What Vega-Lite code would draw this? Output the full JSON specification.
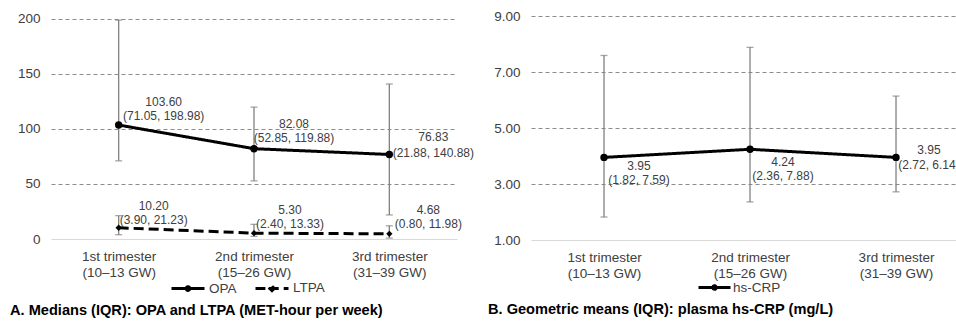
{
  "$schema": "https://vega.github.io/schema/vega-lite/v6.json",
  "padding": {"left": 10, "top": 9, "right": 0, "bottom": 0},
  "bounds": "flush",
  "spacing": 74,
  "datasets": {
    "pa": [
      {"trimester": "1st trimester (10–13 GW)", "series": "OPA", "value": 103.60, "lo": 71.05, "hi": 198.98, "label": "103.60\n(71.05, 198.98)"},
      {"trimester": "2nd trimester (15–26 GW)", "series": "OPA", "value": 82.08, "lo": 52.85, "hi": 119.88, "label": "82.08\n(52.85, 119.88)"},
      {"trimester": "3rd trimester (31–39 GW)", "series": "OPA", "value": 76.83, "lo": 21.88, "hi": 140.88, "label": "76.83\n(21.88, 140.88)"},
      {"trimester": "1st trimester (10–13 GW)", "series": "LTPA", "value": 10.20, "lo": 3.90, "hi": 21.23, "label": "10.20\n(3.90, 21.23)"},
      {"trimester": "2nd trimester (15–26 GW)", "series": "LTPA", "value": 5.30, "lo": 2.40, "hi": 13.33, "label": "5.30\n(2.40, 13.33)"},
      {"trimester": "3rd trimester (31–39 GW)", "series": "LTPA", "value": 4.68, "lo": 0.80, "hi": 11.98, "label": "4.68\n(0.80, 11.98)"}
    ],
    "crp": [
      {"trimester": "1st trimester (10–13 GW)", "series": "hs-CRP", "value": 3.95, "lo": 1.82, "hi": 7.59, "label": "3.95\n(1.82, 7.59)"},
      {"trimester": "2nd trimester (15–26 GW)", "series": "hs-CRP", "value": 4.24, "lo": 2.36, "hi": 7.88, "label": "4.24\n(2.36, 7.88)"},
      {"trimester": "3rd trimester (31–39 GW)", "series": "hs-CRP", "value": 3.95, "lo": 2.72, "hi": 6.14, "label": "3.95\n(2.72, 6.14)"}
    ]
  },
  "hconcat": [
    {
      "width": 406,
      "height": 223,
      "data": {"name": "pa"},
      "title": {"text": "A. Medians (IQR): OPA and LTPA (MET-hour per week)", "orient": "bottom", "anchor": "start", "frame": "group", "fontSize": 14.6, "fontWeight": "bold", "font": "Liberation Sans", "color": "#000000", "offset": 6, "dx": -41},
      "encoding": {
        "x": {
          "field": "trimester", "type": "ordinal",
          "sort": ["1st trimester (10–13 GW)", "2nd trimester (15–26 GW)", "3rd trimester (31–39 GW)"],
          "scale": {"type": "point", "padding": 0.5},
          "axis": {"title": null, "labelAngle": 0, "domain": false, "ticks": false, "tickSize": 0, "grid": false, "labelPadding": 10, "labelFontSize": 13.5, "labelLineHeight": 16, "labelColor": "#404040", "labelExpr": "[substring(datum.label, 0, 13), substring(datum.label, 14)]"}
        }
      },
      "layer": [
        {
          "mark": {"type": "rule", "color": "#808080", "strokeWidth": 1.3},
          "encoding": {
            "y": {"field": "lo", "type": "quantitative", "scale": {"domain": [0, 202.7], "nice": false, "zero": true},
              "axis": {"title": null, "values": [0, 50, 100, 150, 200], "domain": false, "ticks": false, "tickSize": 0, "labelPadding": 11, "labelFontSize": 13.5, "labelColor": "#404040",
                "gridColor": {"condition": {"test": "datum.value === 0", "value": "#d9d9d9"}, "value": "#8c8c8c"},
                "gridDash": {"condition": {"test": "datum.value === 0", "value": []}, "value": [4, 3]}, "gridWidth": 1}},
            "y2": {"field": "hi"}
          }
        },
        {
          "mark": {"type": "tick", "color": "#808080", "size": 7, "thickness": 1.3},
          "encoding": {"y": {"field": "lo", "type": "quantitative", "title": null}}
        },
        {
          "mark": {"type": "tick", "color": "#808080", "size": 7, "thickness": 1.3},
          "encoding": {"y": {"field": "hi", "type": "quantitative", "title": null}}
        },
        {
          "mark": {"type": "line", "color": "#000000", "strokeWidth": 3},
          "encoding": {
            "y": {"field": "value", "type": "quantitative", "title": null},
            "detail": {"field": "series"},
            "strokeDash": {
              "field": "series", "type": "nominal",
              "scale": {"domain": ["OPA", "LTPA"], "range": [[1, 0], [10, 5]]},
              "legend": {
                "title": null, "orient": "none", "direction": "horizontal", "legendX": 119, "legendY": 254,
                "symbolSize": 1089, "symbolStrokeWidth": 3, "symbolStrokeColor": "#000000", "symbolFillColor": "#000000",
                "labelFontSize": 13.5, "labelColor": "#404040", "labelOffset": 3, "columnPadding": 12,
                "encode": {"symbols": {"update": {
                  "shape": {"signal": "datum.value === 'OPA' ? 'M-1,0H1M-0.11,0A0.11,0.11,0,1,1,0.11,0A0.11,0.11,0,1,1,-0.11,0Z' : 'M-1,0H-0.4M-0.2,0H1M0,-0.13L0.13,0L0,0.13L-0.13,0Z'"},
                  "strokeDash": {"value": [1, 0]},
                  "fill": {"value": "#000000"},
                  "stroke": {"value": "#000000"}
                }}}
              }
            }
          }
        },
        {
          "transform": [{"filter": "datum.series === 'OPA'"}],
          "mark": {"type": "point", "filled": true, "color": "#000000", "opacity": 1, "shape": "circle", "size": 55},
          "encoding": {"y": {"field": "value", "type": "quantitative", "title": null}}
        },
        {
          "transform": [{"filter": "datum.series === 'LTPA'"}],
          "mark": {"type": "point", "filled": true, "color": "#000000", "opacity": 1, "shape": "diamond", "size": 40},
          "encoding": {"y": {"field": "value", "type": "quantitative", "title": null}}
        },
        {
          "transform": [{"filter": "datum.series === 'OPA' && indexof(datum.trimester, '1st') === 0"}],
          "mark": {"type": "text", "lineBreak": "\n", "fontSize": 12, "color": "#404040", "baseline": "middle", "lineHeight": 13.5, "dx": 45, "dy": -23},
          "encoding": {"y": {"field": "value", "type": "quantitative", "title": null}, "text": {"field": "label"}}
        },
        {
          "transform": [{"filter": "datum.series === 'OPA' && indexof(datum.trimester, '2nd') === 0"}],
          "mark": {"type": "text", "lineBreak": "\n", "fontSize": 12, "color": "#404040", "baseline": "middle", "lineHeight": 13.5, "dx": 40, "dy": -24.5},
          "encoding": {"y": {"field": "value", "type": "quantitative", "title": null}, "text": {"field": "label"}}
        },
        {
          "transform": [{"filter": "datum.series === 'OPA' && indexof(datum.trimester, '3rd') === 0"}],
          "mark": {"type": "text", "lineBreak": "\n", "fontSize": 12, "color": "#404040", "baseline": "middle", "lineHeight": 16, "dx": 44, "dy": -17.5},
          "encoding": {"y": {"field": "value", "type": "quantitative", "title": null}, "text": {"field": "label"}}
        },
        {
          "transform": [{"filter": "datum.series === 'LTPA' && indexof(datum.trimester, '1st') === 0"}],
          "mark": {"type": "text", "lineBreak": "\n", "fontSize": 12, "color": "#404040", "baseline": "middle", "lineHeight": 14.5, "dx": 35, "dy": -22},
          "encoding": {"y": {"field": "value", "type": "quantitative", "title": null}, "text": {"field": "label"}}
        },
        {
          "transform": [{"filter": "datum.series === 'LTPA' && indexof(datum.trimester, '2nd') === 0"}],
          "mark": {"type": "text", "lineBreak": "\n", "fontSize": 12, "color": "#404040", "baseline": "middle", "lineHeight": 13.5, "dx": 36, "dy": -23},
          "encoding": {"y": {"field": "value", "type": "quantitative", "title": null}, "text": {"field": "label"}}
        },
        {
          "transform": [{"filter": "datum.series === 'LTPA' && indexof(datum.trimester, '3rd') === 0"}],
          "mark": {"type": "text", "lineBreak": "\n", "fontSize": 12, "color": "#404040", "baseline": "middle", "lineHeight": 14, "dx": 39, "dy": -24},
          "encoding": {"y": {"field": "value", "type": "quantitative", "title": null}, "text": {"field": "label"}}
        }
      ]
    },
    {
      "width": 425,
      "height": 224,
      "data": {"name": "crp"},
      "title": {"text": "B. Geometric means (IQR): plasma hs-CRP (mg/L)", "orient": "bottom", "anchor": "start", "frame": "group", "fontSize": 14.6, "fontWeight": "bold", "font": "Liberation Sans", "color": "#000000", "offset": 6, "dx": -43},
      "encoding": {
        "x": {
          "field": "trimester", "type": "ordinal",
          "sort": ["1st trimester (10–13 GW)", "2nd trimester (15–26 GW)", "3rd trimester (31–39 GW)"],
          "scale": {"type": "point", "padding": 0.4555, "align": 0.549},
          "axis": {"title": null, "labelAngle": 0, "domain": false, "ticks": false, "tickSize": 0, "grid": false, "labelPadding": 10, "labelFontSize": 13.5, "labelLineHeight": 16, "labelColor": "#404040", "labelExpr": "[substring(datum.label, 0, 13), substring(datum.label, 14)]"}
        }
      },
      "layer": [
        {
          "mark": {"type": "rule", "color": "#808080", "strokeWidth": 1.3},
          "encoding": {
            "y": {"field": "lo", "type": "quantitative", "scale": {"domain": [1, 9], "nice": false, "zero": false},
              "axis": {"title": null, "values": [1, 3, 5, 7, 9], "format": ".2f", "domain": false, "ticks": false, "tickSize": 0, "labelPadding": 11, "labelFontSize": 13.5, "labelColor": "#404040",
                "gridColor": {"condition": {"test": "datum.value === 1", "value": "#d9d9d9"}, "value": "#8c8c8c"},
                "gridDash": {"condition": {"test": "datum.value === 1", "value": []}, "value": [4, 3]}, "gridWidth": 1}},
            "y2": {"field": "hi"}
          }
        },
        {
          "mark": {"type": "tick", "color": "#808080", "size": 7, "thickness": 1.3},
          "encoding": {"y": {"field": "lo", "type": "quantitative", "title": null}}
        },
        {
          "mark": {"type": "tick", "color": "#808080", "size": 7, "thickness": 1.3},
          "encoding": {"y": {"field": "hi", "type": "quantitative", "title": null}}
        },
        {
          "mark": {"type": "line", "color": "#000000", "strokeWidth": 3},
          "encoding": {
            "y": {"field": "value", "type": "quantitative", "title": null},
            "strokeDash": {
              "field": "series", "type": "nominal",
              "scale": {"domain": ["hs-CRP"], "range": [[1, 0]]},
              "legend": {
                "title": null, "orient": "none", "direction": "horizontal", "legendX": 166, "legendY": 254,
                "symbolSize": 1024, "symbolStrokeWidth": 3, "symbolStrokeColor": "#000000", "symbolFillColor": "#000000",
                "labelFontSize": 13.5, "labelColor": "#404040", "labelOffset": 1,
                "encode": {"symbols": {"update": {
                  "shape": {"value": "M-1,0H1M-0.11,0A0.11,0.11,0,1,1,0.11,0A0.11,0.11,0,1,1,-0.11,0Z"},
                  "strokeDash": {"value": [1, 0]},
                  "fill": {"value": "#000000"},
                  "stroke": {"value": "#000000"}
                }}}
              }
            }
          }
        },
        {
          "mark": {"type": "point", "filled": true, "color": "#000000", "opacity": 1, "shape": "circle", "size": 55},
          "encoding": {"y": {"field": "value", "type": "quantitative", "title": null}}
        },
        {
          "transform": [{"filter": "indexof(datum.trimester, '1st') === 0"}],
          "mark": {"type": "text", "lineBreak": "\n", "fontSize": 12, "color": "#404040", "baseline": "middle", "lineHeight": 14, "dx": 35, "dy": 8.6, "clip": true},
          "encoding": {"y": {"field": "value", "type": "quantitative", "title": null}, "text": {"field": "label"}}
        },
        {
          "transform": [{"filter": "indexof(datum.trimester, '2nd') === 0"}],
          "mark": {"type": "text", "lineBreak": "\n", "fontSize": 12, "color": "#404040", "baseline": "middle", "lineHeight": 14, "dx": 33, "dy": 12.7, "clip": true},
          "encoding": {"y": {"field": "value", "type": "quantitative", "title": null}, "text": {"field": "label"}}
        },
        {
          "transform": [{"filter": "indexof(datum.trimester, '3rd') === 0"}],
          "mark": {"type": "text", "lineBreak": "\n", "fontSize": 12, "color": "#404040", "baseline": "middle", "lineHeight": 15, "dx": 33, "dy": -7.4, "clip": true},
          "encoding": {"y": {"field": "value", "type": "quantitative", "title": null}, "text": {"field": "label"}}
        }
      ]
    }
  ],
  "resolve": {
    "scale": {"x": "independent", "y": "independent", "strokeDash": "independent"},
    "legend": {"strokeDash": "independent"}
  },
  "config": {
    "view": {"stroke": null},
    "font": "Liberation Sans",
    "axis": {"labelFont": "Liberation Sans"},
    "legend": {"labelFont": "Liberation Sans"},
    "text": {"font": "Liberation Sans"}
  }
}
